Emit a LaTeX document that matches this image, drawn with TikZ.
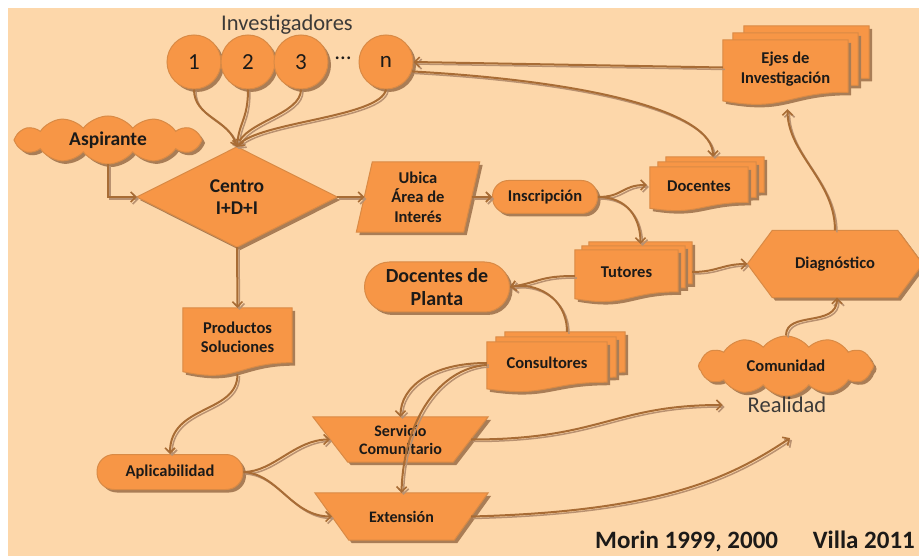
\documentclass[tikz,border=0pt]{standalone}
\usepackage{fontspec}
\setmainfont{Carlito}
\usetikzlibrary{calc,arrows.meta,shapes.symbols}

\definecolor{peach}{HTML}{FDD7AA}
\definecolor{ofill}{HTML}{F79646}
\definecolor{oline}{HTML}{D98A45}
\definecolor{shadowc}{HTML}{A97D56}
\definecolor{linkc}{HTML}{A86C35}
\definecolor{linkshadow}{HTML}{B99170}
\definecolor{ink}{HTML}{1C1A18}
\definecolor{txtgray}{HTML}{3C3A38}

\pgfdeclarelayer{bg}
\pgfdeclarelayer{shapes}
\pgfsetlayers{bg,shapes,main}

% text sizes (1pt = 1 pixel of the final image)
\newcommand\fsm{\fontsize{16.5}{19.5}\selectfont\bfseries}
\newcommand\fmid{\fontsize{19.5}{22}\selectfont\bfseries}
\newcommand\fplanta{\fontsize{20}{23}\selectfont\bfseries}
\newcommand\fserv{\fontsize{16}{18}\selectfont\bfseries}
\newcommand\freg{\fontsize{22.5}{26}\selectfont}
\newcommand\fnum{\fontsize{23}{26}\selectfont}
\newcommand\fcite{\fontsize{25}{28}\selectfont\bfseries}

% document outline with a wavy lower edge, built on a node's box and shifted by (#2,#3)
\newcommand\docoutline[3]{%
  ($(#1.north west)+(#2,#3)$) -- ($(#1.north east)+(#2,#3)$)
  -- ($(#1.north east)!0.802!(#1.south east)+(#2,#3)$)
  .. controls ($(#1.north)!0.802!(#1.south)+(#2,#3)$)
  and ($(#1.north)!1.1075!(#1.south)+(#2,#3)$)
  .. ($(#1.north west)!0.934!(#1.south west)+(#2,#3)$) -- cycle}

\begin{document}
\begin{tikzpicture}[x=1pt,y=-1pt,
  drop/.style={preaction={fill=shadowc,transform canvas={shift={(3,3)}}}},
  shapefill/.style={fill=ofill,draw=oline,line width=1pt,drop},
  box/.style={inner sep=0pt,align=center,text=ink,font=\fsm},
  pill/.style={box,shapefill,rectangle,rounded corners=#1},
  puff/.style={box,shapefill,cloud,cloud puffs=12,cloud puff arc=105,cloud ignores aspect},
  bubble/.style={circle,minimum size=54pt,inner sep=0pt,shapefill,text=ink,font=\fnum},
  link/.style={draw=linkc,line width=2pt,
    -{Straight Barb[length=5pt,width=10pt,line width=1.6pt]},
    preaction={draw=linkshadow,line width=1.5pt,transform canvas={shift={(2,2)}}}}]

\useasboundingbox (0,0) rectangle (919,556);
\begin{pgfonlayer}{bg}
  \fill[white] (0,0) rectangle (919,556);
  \fill[peach] (8,8) rectangle (919,556);
\end{pgfonlayer}

% researchers
\node[font=\freg,text=txtgray,inner sep=0pt] (inv) at (287,25) {Investigadores};
\node[bubble] (c1) at (194,62) {1};
\node[bubble] (c2) at (248,62) {2};
\node[bubble] (c3) at (301,62) {3};
\node[font=\fnum,text=ink,inner sep=0pt] (dots) at (343,58) {…};
\node[bubble] (cn) at (386,62) {n};

% main blocks
\node[puff,font=\fmid,minimum width=188pt,minimum height=48pt] (asp) at (108,140) {Aspirante};
\node[box,font=\fmid,minimum width=200pt,minimum height=100pt] (ctr) at (237,197) {Centro\\I+D+I};
\node[box,minimum width=123pt,minimum height=70pt] (ubica) at (418,197) {Ubica\\Área de\\Interés};
\node[pill=16pt,minimum width=105pt,minimum height=33pt] (insc) at (545,197) {Inscripción};
\node[box,minimum width=98pt,minimum height=44pt,text depth=6pt] (doc) at (699,189) {Docentes};
\node[box,minimum width=125pt,minimum height=65pt,text depth=10pt] (ejes) at (785.5,72.5) {Ejes de\\Investigación};
\node[box,minimum width=103pt,minimum height=52pt,text depth=7pt] (tut) at (626.5,276) {Tutores};
\node[box,minimum width=175pt,minimum height=67pt] (diag) at (835,264) {Diagnóstico};
\node[pill=25pt,font=\fplanta,minimum width=145pt,minimum height=50pt] (dplanta) at (437,287) {Docentes de\\Planta};
\node[box,minimum width=120pt,minimum height=50pt,text depth=9pt] (cons) at (547,367) {Consultores};
\node[box,minimum width=109pt,minimum height=68pt,text depth=10pt] (prod) at (237.5,342) {Productos\\Soluciones};
\node[pill=17pt,minimum width=146pt,minimum height=35pt] (aplic) at (170,472) {Aplicabilidad};
\node[box,font=\fserv,minimum width=175pt,minimum height=45pt] (serv) at (400.5,439.5) {Servicio\\Comunitario};
\node[box,font=\fserv,minimum width=173pt,minimum height=47pt] (ext) at (401.5,516.5) {Extensión};
\node[puff,minimum width=175pt,minimum height=60pt] (com) at (786,366) {Comunidad};
\node[font=\freg,text=txtgray,inner sep=0pt] (real) at (787,405) {Realidad};
\node[font=\fcite,text=ink,inner sep=0pt,anchor=base west] (morin) at (595,548) {Morin 1999, 2000};
\node[font=\fcite,text=ink,inner sep=0pt,anchor=base east] (villa) at (915,548) {Villa 2011};

% outlines of the custom shapes, under the texts
\begin{pgfonlayer}{shapes}
  \fill[shapefill] (ctr.west) -- (ctr.north) -- (ctr.east) -- (ctr.south) -- cycle;
  \fill[shapefill] ($(ubica.north west)+(16,0)$) -- (ubica.north east)
    -- ($(ubica.south east)+(-16,0)$) -- (ubica.south west) -- cycle;
  \fill[shapefill] (diag.west) -- ($(diag.north west)+(25,0)$) -- ($(diag.north east)+(-25,0)$)
    -- (diag.east) -- ($(diag.south east)+(-25,0)$) -- ($(diag.south west)+(25,0)$) -- cycle;
  \fill[shapefill] (serv.north west) -- (serv.north east) -- ($(serv.south east)+(-35,0)$)
    -- ($(serv.south west)+(35,0)$) -- cycle;
  \fill[shapefill] (ext.north west) -- (ext.north east) -- ($(ext.south east)+(-34,0)$)
    -- ($(ext.south west)+(34,0)$) -- cycle;
  % single document
  \fill[shapefill] \docoutline{prod}{0}{0};
  % stacked documents
  \fill[shapefill] \docoutline{doc}{16}{-10};
  \fill[shapefill] \docoutline{doc}{8}{-5};
  \fill[shapefill] \docoutline{doc}{0}{0};
  \fill[shapefill] \docoutline{ejes}{21}{-14};
  \fill[shapefill] \docoutline{ejes}{10}{-7};
  \fill[shapefill] \docoutline{ejes}{0}{0};
  \fill[shapefill] \docoutline{tut}{14}{-8};
  \fill[shapefill] \docoutline{tut}{7}{-4};
  \fill[shapefill] \docoutline{tut}{0}{0};
  \fill[shapefill] \docoutline{cons}{18}{-10};
  \fill[shapefill] \docoutline{cons}{9}{-5};
  \fill[shapefill] \docoutline{cons}{0}{0};
\end{pgfonlayer}

% connectors
\draw[link] (c1.south) .. controls +(0,28) and +(-8,-28) .. (ctr.north);
\draw[link] (c2.south) .. controls +(0,30) and +(2,-25) .. (ctr.north);
\draw[link] (c3.south) .. controls +(0,25) and +(8,-25) .. (ctr.north);
\draw[link] (cn.south) .. controls +(-5,28) and +(20,-25) .. (ctr.north);
\draw[link] (asp.south) |- (ctr.west);
\draw[link] (ctr.east) -- ($(ubica.west)+(8,0)$);
\draw[link] ($(ubica.east)+(-8,0)$) -- (insc.west);
\draw[link] (insc.east) .. controls +(25,0) and +(-25,0) .. ($(doc.west)+(-3,-4)$);
\draw[link] (insc.east) .. controls +(30,0) and +(0,-25) .. ($(tut.north)+(14,-6)$);
\draw[link] (cn.-20) .. controls +(180,10) and +(0,-45) .. ($(doc.north)+(14,-10)$);
\draw[link] ($(ejes.west)+(0,-5)$) -- (cn.east);
\draw[link] (diag.north) .. controls +(0,-50) and +(0,45) .. ($(ejes.south)+(2,4)$);
\draw[link] ($(tut.east)+(14,-4)$) .. controls +(25,0) and +(-25,0) .. (diag.west);
\draw[link] (tut.west) .. controls +(-35,0) and +(30,-5) .. (dplanta.east);
\draw[link] ($(cons.north)+(20,-10)$) .. controls +(0,-35) and +(25,-5) .. (dplanta.east);
\draw[link] ($(cons.west)+(0,-4)$) .. controls +(-55,0) and +(0,-30) .. (serv.north);
\draw[link] ($(cons.west)+(0,-2)$) .. controls +(-47,3) and +(2,-73) .. (ext.north);
\draw[link] (ctr.south) -- (prod.north);
\draw[link] ($(prod.south)+(0,-2)$) .. controls +(0,40) and +(0,-50) .. (aplic.north);
\draw[link] (aplic.east) .. controls +(30,0) and +(-35,0) .. ($(serv.west)+(17,0)$);
\draw[link] (aplic.east) .. controls +(35,2) and +(-40,0) .. ($(ext.west)+(17,0)$);
\draw[link] ($(serv.east)+(-17,0)$) .. controls +(130,0) and +(-110,0) .. ($(real.west)+(-25,0)$);
\draw[link] ($(ext.east)+(-17,0)$) .. controls +(190,-5) and +(-60,40) .. ($(real.south)+(3,25)$);
\draw[link] (com.north) .. controls +(0,-25) and +(0,30) .. ($(diag.south)+(2,0)$);

\end{tikzpicture}
\end{document}
